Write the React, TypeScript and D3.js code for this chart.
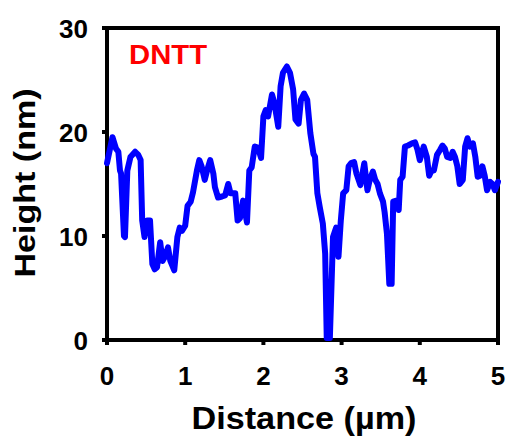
import React from "react";
import * as d3 from "d3";

const distance = [
  0, 0.07, 0.115, 0.145, 0.166, 0.18, 0.217, 0.23, 0.26, 0.3, 0.36, 0.4, 0.43, 0.45, 0.48, 0.51, 0.55, 0.58, 0.61, 0.64,
  0.68, 0.71, 0.74, 0.78, 0.81, 0.86, 0.9, 0.93, 0.96, 1.0, 1.03, 1.07, 1.1, 1.15, 1.18, 1.21, 1.25, 1.28, 1.32, 1.36,
  1.38, 1.42, 1.47, 1.51, 1.55, 1.58, 1.62, 1.64, 1.67, 1.7, 1.74, 1.79, 1.82, 1.85, 1.89, 1.93, 1.97, 2.0, 2.03, 2.06,
  2.11, 2.14, 2.19, 2.22, 2.25, 2.3, 2.34, 2.38, 2.41, 2.45, 2.48, 2.52, 2.56, 2.6, 2.64, 2.66, 2.69, 2.72, 2.76, 2.79,
  2.81, 2.85, 2.89, 2.93, 2.96, 2.99, 3.02, 3.06, 3.09, 3.12, 3.16, 3.19, 3.24, 3.29, 3.33, 3.36, 3.4, 3.43, 3.46, 3.49,
  3.53, 3.55, 3.58, 3.61, 3.64, 3.66, 3.7, 3.73, 3.75, 3.78, 3.81, 3.85, 3.9, 3.94, 3.97, 4.0, 4.05, 4.09, 4.12, 4.15,
  4.18, 4.22, 4.26, 4.29, 4.32, 4.35, 4.39, 4.42, 4.45, 4.48, 4.51, 4.55, 4.58, 4.61, 4.64, 4.68, 4.71, 4.74, 4.77, 4.8,
  4.83, 4.86, 4.9, 4.93, 4.96, 4.99, 5.0,
];
const height = [
  17.0, 19.5, 18.4, 18.1, 16.3, 16.0, 10.0, 9.9, 16.3, 17.6, 18.1, 17.8, 17.3, 11.5, 9.9, 11.5, 11.5, 7.3, 6.8, 7.0,
  9.4, 7.6, 8.0, 8.9, 7.6, 6.7, 9.9, 10.8, 10.5, 11.0, 12.9, 13.3, 14.2, 16.3, 17.3, 16.7, 15.4, 16.3, 17.3, 16.0,
  14.7, 13.7, 13.8, 13.9, 15.0, 14.1, 14.1, 14.1, 11.5, 11.7, 13.4, 11.3, 16.3, 16.6, 18.6, 18.5, 17.5, 21.5, 22.1, 21.5,
  23.6, 22.8, 20.5, 24.4, 25.7, 26.3, 25.7, 24.1, 21.2, 20.8, 23.1, 23.7, 23.1, 19.9, 17.9, 17.6, 14.1, 12.8, 11.2, 8.3,
  0.2, 0.2, 9.9, 10.8, 8.0, 11.5, 14.1, 14.4, 16.7, 17.0, 17.1, 16.0, 14.9, 17.0, 14.4, 15.4, 16.2, 15.4, 15.0, 14.1,
  13.3, 12.3, 10.2, 5.4, 5.4, 13.3, 13.4, 12.5, 15.4, 15.7, 18.6, 18.7, 18.9, 19.0, 18.3, 17.3, 18.6, 17.6, 15.8, 16.3,
  16.3, 17.8, 18.3, 18.7, 18.4, 17.6, 17.5, 18.1, 17.6, 16.7, 15.0, 15.4, 18.6, 19.4, 18.6, 18.9, 17.6, 15.7, 15.8, 16.7,
  15.8, 14.4, 15.2, 15.0, 14.4, 15.0, 15.2,
];
const xTicks = [0, 1, 2, 3, 4, 5];
const yTicks = [0, 10, 20, 30];
const sampleLabel = "DNTT";
const xTitle = "Distance (\u00b5m)";
const yTitle = "Height (nm)";

export default function App() {
  const W = 511, H = 441;
  const x = d3.scaleLinear().domain([0, 5]).range([107, 498]);
  const y = d3.scaleLinear().domain([0, 30]).range([340, 28]);
  const pts: [number, number][] = distance.map((d, i) => [d, height[i]]);
  const line = d3.line<[number, number]>().x((d) => x(d[0])).y((d) => y(d[1]));
  const font = "'Liberation Sans', Arial, sans-serif";
  return (
    <svg width={W} height={H} style={{ position: "absolute", left: 0, top: 0 }}>
      <rect x={0} y={0} width={W} height={H} fill="#fff" />
      <path
        d={`M${x(0)},${y(0)}H${x(5)}V${y(30)}H${x(0)}Z`}
        fill="none"
        stroke="#000"
        strokeWidth={4}
      />
      {xTicks.map((t) => (
        <g key={"x" + t}>
          <line x1={x(t)} x2={x(t)} y1={y(0)} y2={y(0) + 5} stroke="#000" strokeWidth={4} />
          <text x={x(t)} y={385} textAnchor="middle" fontFamily={font} fontWeight="bold" fontSize={26} fill="#000">
            {t}
          </text>
        </g>
      ))}
      {yTicks.map((t) => (
        <g key={"y" + t}>
          <line x1={x(0) - 5} x2={x(0)} y1={y(t)} y2={y(t)} stroke="#000" strokeWidth={4} />
          <text x={88} y={y(t) + 9.5} textAnchor="end" fontFamily={font} fontWeight="bold" fontSize={26} fill="#000">
            {t}
          </text>
        </g>
      ))}
      <path d={line(pts) || ""} fill="none" stroke="#0000ff" strokeWidth={6} strokeLinejoin="round" strokeLinecap="round" />
      <text x={129} y={63.5} fontFamily={font} fontWeight="bold" fontSize={27} fill="#ff0000" textLength={78} lengthAdjust="spacingAndGlyphs">
        {sampleLabel}
      </text>
      <text x={304} y={429} textAnchor="middle" fontFamily={font} fontWeight="bold" fontSize={31} fill="#000" textLength={225} lengthAdjust="spacingAndGlyphs">
        {xTitle}
      </text>
      <text
        transform={`translate(35,183) rotate(-90)`}
        textAnchor="middle"
        fontFamily={font}
        fontWeight="bold"
        fontSize={30}
        fill="#000"
        textLength={189}
        lengthAdjust="spacingAndGlyphs"
      >
        {yTitle}
      </text>
    </svg>
  );
}
